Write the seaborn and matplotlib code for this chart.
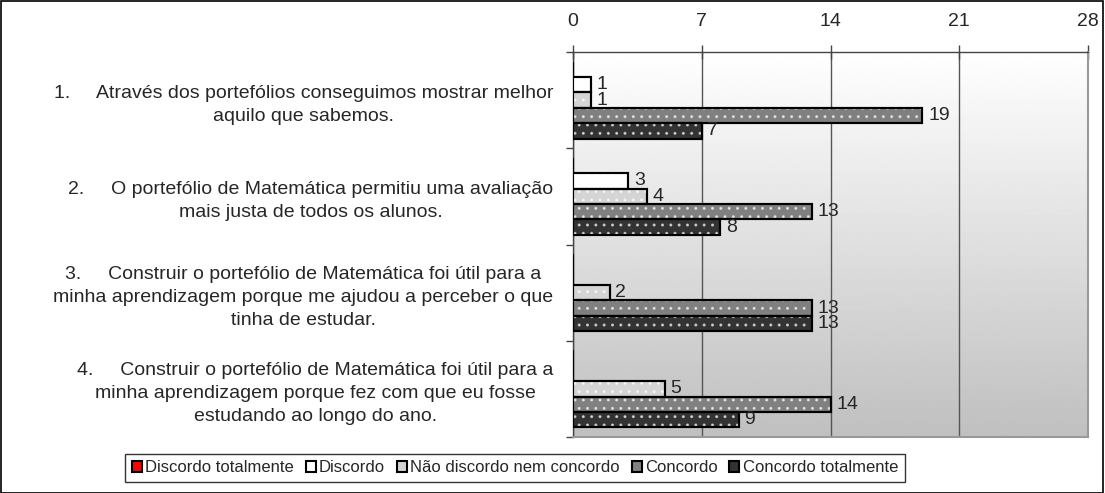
import matplotlib
matplotlib.use("Agg")
import matplotlib.pyplot as plt
import numpy as np
import pandas as pd
import seaborn as sns
from matplotlib.patches import Rectangle

questions = [
    "1.     Através dos portefólios conseguimos mostrar melhor\naquilo que sabemos.",
    "2.     O portefólio de Matemática permitiu uma avaliação\nmais justa de todos os alunos.",
    "3.     Construir o portefólio de Matemática foi útil para a\nminha aprendizagem porque me ajudou a perceber o que\ntinha de estudar.",
    "4.     Construir o portefólio de Matemática foi útil para a\nminha aprendizagem porque fez com que eu fosse\nestudando ao longo do ano.",
]
series = ["Discordo totalmente", "Discordo", "Não discordo nem concordo", "Concordo", "Concordo totalmente"]
discordo_totalmente = [0, 0, 0, 0]
discordo = [1, 3, 0, 0]
nao_discordo = [1, 4, 2, 5]
concordo = [19, 13, 13, 14]
concordo_totalmente = [7, 8, 13, 9]
x_ticks = [0, 7, 14, 21, 28]

colors = ["#ff0000", "#ffffff", "#d4d4d4", "#808080", "#333333"]

values = [discordo_totalmente, discordo, nao_discordo, concordo, concordo_totalmente]
rows = []
for s, vals in zip(series, values):
    for q, v in zip(questions, vals):
        rows.append({"Questão": q, "Série": s, "Valor": v})
df = pd.DataFrame(rows)

sns.set_style("white")
plt.rcParams["font.family"] = ["Liberation Sans", "DejaVu Sans"]

fig = plt.figure(figsize=(11.05, 4.93), dpi=100)
ax = fig.add_axes([573 / 1105, 1 - 437 / 493, (1088 - 573) / 1105, (437 - 52) / 493])

sns.barplot(data=df, y="Questão", x="Valor", hue="Série", hue_order=series,
            order=questions, palette=colors, orient="h", width=0.8,
            edgecolor="black", linewidth=1.5, ax=ax, legend=False, zorder=3)

# dotted texture on bars
bar_patches = [p for p in ax.patches]
for p in bar_patches:
    if p.get_width() > 0:
        ax.add_patch(Rectangle((p.get_x(), p.get_y()), p.get_width(), p.get_height(),
                               fill=False, edgecolor="white", linewidth=0, hatch="..",
                               zorder=4, alpha=0.6))
        ax.add_patch(Rectangle((p.get_x(), p.get_y()), p.get_width(), p.get_height(),
                               fill=False, edgecolor="black", linewidth=1.5, zorder=5))

# value labels
for cont in ax.containers:
    labels = [f"{int(v)}" if v > 0 else "" for v in cont.datavalues]
    ax.bar_label(cont, labels=labels, padding=4, fontsize=14, zorder=6)

# gradient background
grad = np.linspace(1.0, 0.75, 256).reshape(-1, 1)
ax.imshow(grad, cmap="gray", vmin=0, vmax=1, aspect="auto",
          extent=[0, 1, 0, 1], transform=ax.transAxes, zorder=0)

ax.set_xlim(0, 28)
ax.set_ylim(3.5, -0.5)
ax.set_xticks(x_ticks)
ax.xaxis.tick_top()
ax.tick_params(axis="x", which="major", top=True, bottom=False, length=10, width=1,
               color="#444444", labelsize=14, pad=11, direction="inout")
ax.grid(axis="x", color="#555555", linewidth=1, zorder=1)
ax.set_axisbelow(True)

ax.set_yticks(range(len(questions)))
ax.set_yticklabels(questions, fontsize=14, multialignment="center", linespacing=1.45)
ax.tick_params(axis="y", which="major", length=0, pad=14)
ax.set_yticks([-0.5, 0.5, 1.5, 2.5, 3.5], minor=True)
ax.tick_params(axis="y", which="minor", length=5, width=1, color="#444444", direction="out", left=True)
ax.set_xlabel("")
ax.set_ylabel("")

for side in ["top", "left"]:
    ax.spines[side].set_visible(True)
    ax.spines[side].set_color("#444444")
    ax.spines[side].set_linewidth(1)
ax.spines["right"].set_color("#999999")
ax.spines["right"].set_linewidth(1.5)
ax.spines["bottom"].set_color("#999999")
ax.spines["bottom"].set_linewidth(1.5)

handles = [Rectangle((0, 0), 1, 1, facecolor=c, edgecolor="black", linewidth=1.5) for c in colors]
leg = fig.legend(handles, series, loc="center", bbox_to_anchor=(515 / 1105, 1 - 468 / 493),
                 ncol=5, frameon=True, fontsize=12, handlelength=0.6, handleheight=0.6,
                 handletextpad=0.2, columnspacing=0.7, borderpad=0.4, fancybox=False)
leg.get_frame().set_edgecolor("black")
leg.get_frame().set_linewidth(1)

fig.patches.append(Rectangle((0.0005, 0.001), 0.998, 0.997, transform=fig.transFigure,
                             fill=False, edgecolor="black", linewidth=1.2))

fig.savefig("out.png", dpi=100)
